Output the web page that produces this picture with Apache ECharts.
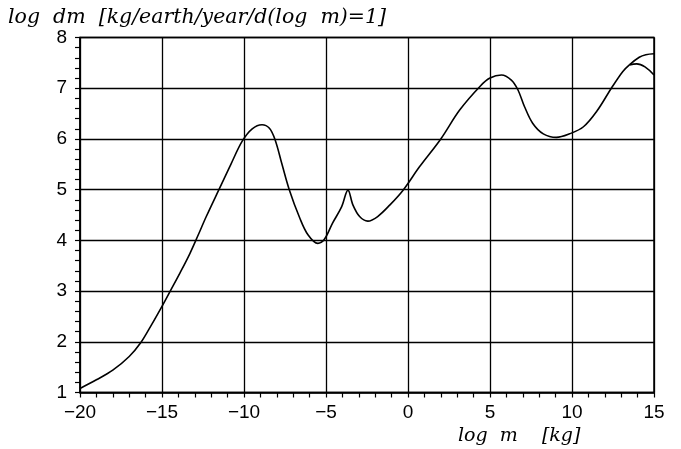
<!DOCTYPE html>
<html><head><meta charset="utf-8">
<script src="https://cdn.jsdelivr.net/npm/echarts@6/dist/echarts.min.js"></script>
<style>html,body{margin:0;padding:0;background:#fff}#c{width:681px;height:449px}</style>
</head><body><div id="c"></div>
<script>
// main curve (log m, log dm)
const mainX = [-20, -19.0, -18.0, -17.0, -16.3, -15.65, -14.95, -14.45, -13.9, -13.3, -12.8, -12.3, -11.5, -10.8, -10.1, -9.5, -8.9, -8.45, -8.1, -7.7, -7.25, -6.6, -6.1, -5.5, -5.1, -4.6, -4.05, -3.66, -3.36, -2.95, -2.45, -1.85, -1.1, -0.3, 0.7, 2.0, 3.15, 4.4, 5.0, 5.7, 6.3, 6.7, 7.1, 7.6, 8.25, 9.05, 9.85, 10.7, 11.5, 12.4, 13.1, 13.5];
const mainY = [1.08, 1.25, 1.44, 1.71, 1.98, 2.33, 2.73, 3.03, 3.36, 3.74, 4.1, 4.47, 5.02, 5.5, 5.96, 6.2, 6.28, 6.21, 5.98, 5.52, 5.01, 4.44, 4.11, 3.94, 4.02, 4.34, 4.66, 4.99, 4.70, 4.47, 4.38, 4.47, 4.70, 4.99, 5.45, 6.0, 6.57, 7.04, 7.2, 7.26, 7.16, 6.97, 6.64, 6.31, 6.1, 6.03, 6.1, 6.24, 6.54, 7.0, 7.33, 7.46];
// upper branch at large masses
const upperX = [13.5, 14.1, 14.5, 15.0];
const upperY = [7.46, 7.61, 7.66, 7.68];
// lower branch at large masses
const lowerX = [13.5, 13.95, 14.45, 15.0];
const lowerY = [7.46, 7.48, 7.42, 7.26];
// axis ticks
const xTicks = [-20, -15, -10, -5, 0, 5, 10, 15];
const yTicks = [1, 2, 3, 4, 5, 6, 7, 8];

const zip = (a, b) => a.map((v, i) => [v, b[i]]);
const chart = echarts.init(document.getElementById('c'), null, {renderer: 'canvas'});
const lineStyle = {color: '#000', width: 1.6};
const labelFont = {color: '#000', fontFamily: 'Liberation Sans', fontSize: 19};
chart.setOption({
  animation: false,
  backgroundColor: '#fff',
  grid: {left: 80, right: 27, top: 37.5, bottom: 56.5, show: true, borderColor: '#000', borderWidth: 1.5},
  xAxis: {
    type: 'value', min: xTicks[0], max: xTicks[xTicks.length - 1], interval: 5,
    axisLine: {show: true, onZero: false, lineStyle: {color: '#000', width: 1.5}},
    axisTick: {show: true, inside: false, length: 5, lineStyle: {color: '#000', width: 1.2}},
    minorTick: {show: true, splitNumber: 5, length: 5, lineStyle: {color: '#000', width: 1.2}},
    splitLine: {show: true, lineStyle: {color: '#000', width: 1.3}},
    axisLabel: Object.assign({margin: 11, formatter: v => String(v).replace('-', '\u2212')}, labelFont)
  },
  yAxis: {
    type: 'value', min: yTicks[0], max: yTicks[yTicks.length - 1], interval: 1,
    axisLine: {show: true, onZero: false, lineStyle: {color: '#000', width: 1.5}},
    axisTick: {show: true, inside: false, length: 5, lineStyle: {color: '#000', width: 1.2}},
    minorTick: {show: true, splitNumber: 5, length: 5, lineStyle: {color: '#000', width: 1.2}},
    splitLine: {show: true, lineStyle: {color: '#000', width: 1.3}},
    axisLabel: Object.assign({margin: 13}, labelFont)
  },
  series: [
    {type: 'line', data: zip(mainX, mainY), smooth: 0.35, showSymbol: false, lineStyle, z: 5},
    {type: 'line', data: zip(upperX, upperY), smooth: 0.4, showSymbol: false, lineStyle, z: 5},
    {type: 'line', data: zip(lowerX, lowerY), smooth: 0.4, showSymbol: false, lineStyle, z: 5}
  ],
  graphic: [
    {type: 'text', left: 8, top: 8, style: {text: 'log  dm  [kg/earth/year/d(log  m)=1]', fill: '#000', font: 'italic 20.5px "DejaVu Serif"'}},
    {type: 'text', left: 458, top: 427, style: {text: 'log  m    [kg]', fill: '#000', font: 'italic 19px "DejaVu Serif"'}}
  ]
});
</script></body></html>
